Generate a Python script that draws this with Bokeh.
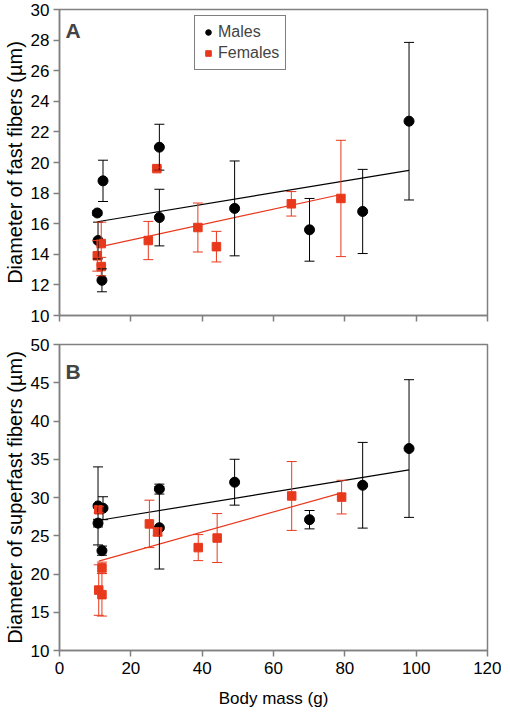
from bokeh.plotting import figure
from bokeh.models import (ColumnDataSource, Whisker, TeeHead, Range1d, FixedTicker,
                          Legend, LegendItem, Label)
from bokeh.layouts import column
from bokeh.embed import file_html
from bokeh.resources import INLINE

# ---------------- data ----------------
x_ticks = [0, 20, 40, 60, 80, 100, 120]
yA_ticks = [10, 12, 14, 16, 18, 20, 22, 24, 26, 28, 30]
yB_ticks = [10, 15, 20, 25, 30, 35, 40, 45, 50]

# Panel A: fast fibers
A_male_mass = [10.6, 10.8, 12.2, 11.9, 28.0, 28.0, 49.1, 70.1, 85.0, 98.0]
A_male_diam = [16.7, 14.9, 18.8, 12.3, 21.0, 16.4, 17.0, 15.6, 16.8, 22.7]
A_male_err = [0.15, 1.2, 1.35, 0.75, 1.5, 1.85, 3.1, 2.05, 2.75, 5.15]

A_fem_mass = [11.7, 10.6, 11.7, 24.9, 27.3, 38.8, 44.0, 65.0, 78.9]
A_fem_diam = [14.7, 13.9, 13.2, 14.9, 19.6, 15.75, 14.5, 17.3, 17.65]
A_fem_err = [1.4, 1.0, 0.6, 1.25, 0.1, 1.6, 1.0, 0.8, 3.8]

# Panel B: superfast fibers
B_male_mass = [10.8, 12.2, 10.8, 11.9, 28.0, 28.0, 49.1, 70.1, 85.0, 98.0]
B_male_diam = [28.9, 28.6, 26.65, 23.05, 31.1, 26.05, 32.0, 27.1, 31.6, 36.4]
B_male_err = [5.1, 1.5, 0.5, 0.6, 0.65, 5.4, 3.0, 1.2, 5.6, 9.0]

B_fem_mass = [11.0, 11.9, 11.0, 11.9, 25.2, 27.5, 38.9, 44.2, 65.1, 79.1]
B_fem_diam = [28.4, 20.8, 17.9, 17.3, 26.55, 25.5, 23.45, 24.7, 30.2, 30.05]
B_fem_err = [0.4, 0.75, 3.3, 2.8, 3.1, 0.5, 1.7, 3.2, 4.5, 2.2]

# linear trend lines: [intercept, slope]
A_male_trend = [15.72, 0.0384]
A_fem_trend = [13.91, 0.0507]
B_male_trend = [26.17, 0.0759]
B_fem_trend = [20.25, 0.131]

# ---------------- style ----------------
FONT = "Liberation Sans"
BLACK = "#000000"
RED = "#e8391d"
GREY = "#808080"
FRAME_W = 428
FRAME_H = 306


def make_fig(yr, yticks, ylabel, border_top, border_bottom, show_x):
    p = figure(frame_width=FRAME_W, frame_height=FRAME_H,
               x_range=Range1d(0, 120), y_range=Range1d(*yr),
               output_backend="svg", toolbar_location=None,
               min_border_left=52, min_border_right=14,
               min_border_top=border_top, min_border_bottom=border_bottom)
    p.background_fill_color = "white"
    p.border_fill_color = "white"
    p.outline_line_color = GREY
    p.outline_line_width = 1.5
    p.xgrid.grid_line_color = None
    p.ygrid.grid_line_color = None
    for ax in (p.xaxis[0], p.yaxis[0]):
        ax.axis_line_color = GREY
        ax.axis_line_width = 1.5
        ax.major_tick_line_color = GREY
        ax.major_tick_line_width = 1.5
        ax.major_tick_out = 6
        ax.major_tick_in = 0
        ax.minor_tick_line_color = None
        ax.major_label_text_font = FONT
        ax.major_label_text_font_size = "17px"
        ax.major_label_text_color = "black"
        ax.axis_label_text_font = FONT
        ax.axis_label_text_font_style = "normal"
        ax.axis_label_text_color = "black"
    p.xaxis.axis_label_text_font_size = "17px"
    p.yaxis.axis_label_text_font_size = "20px"
    p.xaxis.ticker = FixedTicker(ticks=x_ticks)
    p.yaxis.ticker = FixedTicker(ticks=yticks)
    p.yaxis.axis_label = ylabel
    p.yaxis.major_label_standoff = 4
    p.yaxis.axis_label_standoff = 2
    p.xaxis.major_label_standoff = 5
    if show_x:
        p.xaxis.axis_label = "Body mass (g)"
        p.xaxis.axis_label_standoff = 12
    else:
        p.xaxis.major_label_overrides = {t: "" for t in x_ticks}
        p.xaxis.major_label_standoff = 0
    return p


def add_series(p, mass, diam, err, trend, color, marker, size):
    lo = [d - e for d, e in zip(diam, err)]
    hi = [d + e for d, e in zip(diam, err)]
    src = ColumnDataSource(dict(x=mass, y=diam, lower=lo, upper=hi))
    w = Whisker(source=src, base="x", upper="upper", lower="lower",
                dimension="height", line_color=color, line_width=1,
                upper_head=TeeHead(size=10, line_color=color, line_width=1),
                lower_head=TeeHead(size=10, line_color=color, line_width=1),
                level="glyph")
    p.add_layout(w)
    x0, x1 = min(mass), max(mass)
    p.line([x0, x1], [trend[0] + trend[1] * x0, trend[0] + trend[1] * x1],
           line_color=color, line_width=1.2)
    r = p.scatter("x", "y", source=src, marker=marker, size=size,
                  fill_color=color, line_color=color)
    return r


# ---------------- panel A ----------------
pA = make_fig((10, 30), yA_ticks, "Diameter of fast fibers (µm)", 9, 20, False)
rm = add_series(pA, A_male_mass, A_male_diam, A_male_err, A_male_trend, BLACK, "circle", 10)
rf = add_series(pA, A_fem_mass, A_fem_diam, A_fem_err, A_fem_trend, RED, "square", 8.5)
legend = Legend(items=[LegendItem(label="Males", renderers=[rm]),
                       LegendItem(label="Females", renderers=[rf])],
                location=(135, 245), orientation="vertical",
                label_text_font=FONT, label_text_font_size="16px",
                glyph_width=14, glyph_height=14, label_height=20,
                label_standoff=3, padding=6, spacing=1, margin=0,
                border_line_color="black", border_line_width=1,
                background_fill_color="white", background_fill_alpha=1)
pA.add_layout(legend, "center")
pA.add_layout(Label(x=1.7, y=28.6, text="A", text_font=FONT, text_font_style="bold",
                    text_font_size="21px", text_baseline="alphabetic"))

# ---------------- panel B ----------------
pB = make_fig((10, 50), yB_ticks, "Diameter of superfast fibers (µm)", 9, 58, True)
add_series(pB, B_male_mass, B_male_diam, B_male_err, B_male_trend, BLACK, "circle", 10)
add_series(pB, B_fem_mass, B_fem_diam, B_fem_err, B_fem_trend, RED, "square", 8.5)
pB.add_layout(Label(x=1.7, y=46.5, text="B", text_font=FONT, text_font_style="bold",
                    text_font_size="21px", text_baseline="alphabetic"))

layout = column(pA, pB, spacing=0)
open("out.html", "w").write(file_html(layout, INLINE))
